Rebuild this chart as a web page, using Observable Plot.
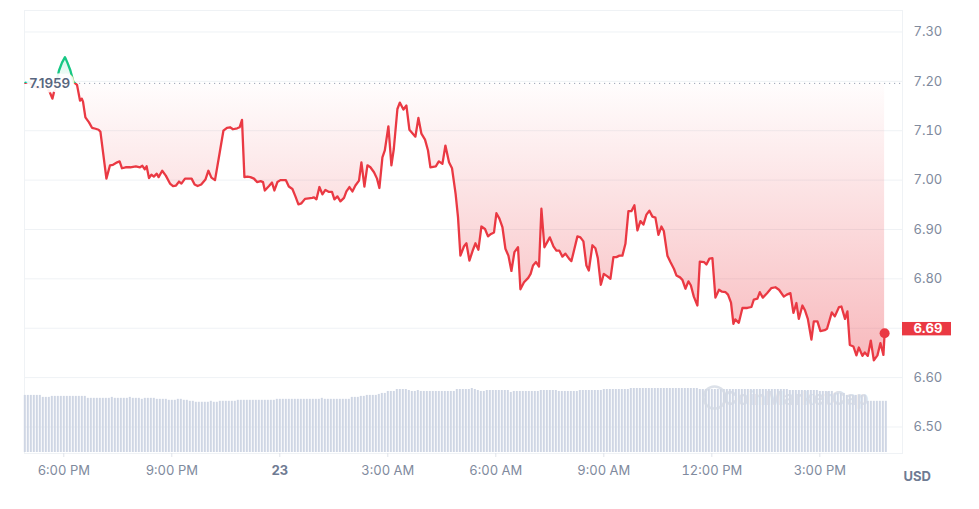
<!DOCTYPE html>
<html>
<head>
<meta charset="utf-8">
<script src="https://cdn.jsdelivr.net/npm/d3@7"></script>
<script src="https://cdn.jsdelivr.net/npm/@observablehq/plot@0.6"></script>
<style>
  html, body { margin: 0; padding: 0; background: #fff; }
  #chart { position: relative; width: 979px; height: 509px; overflow: hidden; font-family: Inter, "Noto Sans", sans-serif; }
  #chart svg { position: absolute; left: 0; top: 0; }
</style>
</head>
<body>
<div id="chart"></div>
<script>
// Minutes relative to 6:00 PM (day 22)
const times = [
  -64,-59,-54,-49,-44,-39,-34,-29,-24,-19,
  -14,-8,-3,2,6,11,16,20,22,27,
  30,32,36,42,47,53,58,61,71,77,
  82,89,93,97,103,111,120,127,131,135,
  138,142,146,150,155,158,164,170,177,182,
  187,192,196,202,210,213,218,223,229,236,
  241,246,252,260,266,272,277,282,289,293,
  297,301,306,311,317,322,328,332,335,342,
  347,351,356,361,370,375,381,386,391,396,
  402,414,417,421,426,431,436,442,447,451,
  456,461,467,471,476,481,486,492,496,501,
  506,511,517,522,526,531,535,541,546,550,
  556,560,566,571,576,581,586,591,596,602,
  607,611,620,625,631,636,642,647,653,657,
  661,667,671,676,682,686,691,696,702,707,
  712,717,721,726,731,736,741,746,751,757,
  761,767,774,778,782,787,792,796,801,810,
  816,821,826,831,836,842,846,851,856,861,
  866,871,875,881,886,890,895,900,906,911,
  916,921,926,931,936,941,946,948,951,956,
  961,966,971,976,981,986,991,996,1000,1006,
  1011,1017,1021,1027,1031,1036,1041,1045,1050,1056,
  1060,1067,1071,1076,1081,1086,1092,1097,1103,1107,
  1112,1116,1119,1125,1131,1139,1146,1150,1156,1160,
  1165,1172,1179,1186,1192,1200,1205,1211,1216,1221,
  1225,1231,1235,1240,1246,1250,1256,1261,1268,1272,
  1280,1285,1292,1296,1302,1306,1310,1316,1321,1325,
  1331,1335,1340,1345,1350,1356,1361,1366,1368
];
const prices = [
  7.197,7.199,7.194,7.190,7.188,7.186,7.187,7.185,7.180,7.165,
  7.190,7.222,7.238,7.249,7.238,7.222,7.199,7.195,7.193,7.161,
  7.165,7.159,7.127,7.117,7.106,7.104,7.102,7.098,7.003,7.030,
  7.031,7.036,7.038,7.024,7.026,7.026,7.028,7.026,7.029,7.022,
  7.028,7.004,7.011,7.007,7.013,7.006,7.019,7.009,6.993,6.988,
  6.989,6.997,6.993,7.003,7.003,7.003,6.991,6.988,6.991,7.001,
  7.019,7.005,7.000,7.057,7.100,7.106,7.107,7.103,7.105,7.107,
  7.122,7.006,7.007,7.006,7.003,6.996,6.998,6.996,6.979,6.988,
  6.995,6.979,6.996,7.000,7.000,6.987,6.982,6.967,6.951,6.953,
  6.962,6.964,6.965,6.961,6.986,6.971,6.980,6.976,6.976,6.961,
  6.967,6.957,6.964,6.977,6.986,6.977,6.989,6.999,7.036,6.987,
  7.030,7.026,7.016,7.003,6.984,7.046,7.060,7.109,7.030,7.063,
  7.144,7.157,7.143,7.151,7.102,7.095,7.088,7.126,7.094,7.082,
  7.060,7.026,7.028,7.038,7.033,7.070,7.036,7.024,6.972,6.925,
  6.847,6.866,6.872,6.837,6.859,6.872,6.859,6.906,6.901,6.886,
  6.891,6.894,6.933,6.922,6.905,6.861,6.847,6.816,6.854,6.864,
  6.779,6.793,6.802,6.810,6.827,6.834,6.825,6.942,6.864,6.884,
  6.866,6.857,6.857,6.845,6.851,6.841,6.836,6.861,6.886,6.884,
  6.876,6.827,6.817,6.868,6.862,6.842,6.788,6.810,6.805,6.800,
  6.844,6.844,6.847,6.847,6.871,6.937,6.937,6.942,6.949,6.898,
  6.917,6.910,6.930,6.938,6.926,6.924,6.889,6.906,6.897,6.847,
  6.834,6.820,6.807,6.803,6.798,6.780,6.795,6.787,6.764,6.746,
  6.835,6.834,6.829,6.841,6.842,6.762,6.778,6.774,6.773,6.768,
  6.752,6.709,6.718,6.711,6.741,6.741,6.743,6.758,6.760,6.773,
  6.762,6.771,6.781,6.783,6.778,6.764,6.768,6.771,6.731,6.751,
  6.719,6.746,6.737,6.719,6.677,6.714,6.714,6.694,6.696,6.699,
  6.732,6.724,6.743,6.744,6.719,6.734,6.666,6.663,6.645,6.661,
  6.644,6.651,6.644,6.675,6.635,6.645,6.670,6.646,6.690
];
const openPrice = 7.1959;
const lastLabel = "6.69";

// Volume bars, one per 5 minutes starting at volStart (arbitrary units)
const volStart = -65, volStep = 5;
const volume = [
  58,58,58,58,58,58,56,56,56,57,57,57,57,57,57,57,57,57,57,57,57,55,55,55,
  55,55,55,55,55,56,55,55,55,55,55,56,55,55,55,54,55,55,55,55,54,54,54,54,
  53,53,53,54,54,53,53,52,52,51,51,51,51,51,52,51,51,52,52,52,52,52,52,53,
  53,53,53,53,53,53,53,53,53,53,53,53,54,54,54,54,54,54,54,54,54,54,54,54,
  54,54,54,55,54,54,54,54,54,54,54,54,54,56,56,56,57,57,58,58,58,58,59,60,
  60,62,62,62,64,64,64,64,63,62,62,63,62,62,62,62,62,62,62,62,62,62,62,62,
  64,64,64,64,64,65,64,63,62,62,63,63,63,63,63,63,63,63,61,62,62,62,62,62,
  62,62,62,62,63,63,63,63,63,63,62,62,62,62,62,62,62,63,63,63,63,63,63,63,
  63,64,64,64,64,64,64,64,64,64,65,65,65,65,65,65,65,65,65,65,65,65,65,65,
  65,65,65,65,65,65,65,65,65,64,64,64,64,64,64,64,64,64,64,64,64,64,64,64,
  64,64,64,64,64,64,64,64,64,64,64,64,64,64,64,63,63,63,63,63,63,63,63,63,
  63,62,62,62,62,62,60,60,60,60,58,58,58,58,58,58,58,52,52,52,52,52,52,52
];

const xTicks = [0, 180, 360, 540, 720, 900, 1080, 1260];
const xTickLabels = ["6:00 PM", "9:00 PM", "23", "3:00 AM", "6:00 AM", "9:00 AM", "12:00 PM", "3:00 PM"];
const yTicks = [6.5, 6.6, 6.7, 6.8, 6.9, 7.0, 7.1, 7.2, 7.3];

// ---- build ----
const W = 979, H = 509;
const red = "#ea3943", green = "#16c784";
const xDomain = [-65.5, 1397.8];
const data = times.map((t, i) => ({t, p: prices[i]}));
const last = data[data.length - 1];
const pMin = d3.min(prices), pMax = d3.max(prices);
const volRows = volume.map((v, i) => ({t: volStart + i * volStep, v}));
const labelOf = new Map(xTicks.map((t, i) => [t, xTickLabels[i]]));
const font = "Inter, 'Noto Sans', sans-serif";

const defsMark = (index, scales, values, dims) => {
  const yb = scales.y(openPrice);
  const yTop = scales.y(pMax), yBot = scales.y(pMin);
  const defs = d3.create("svg:defs");
  const lg = defs.append("linearGradient").attr("id", "lineGrad")
    .attr("gradientUnits", "userSpaceOnUse")
    .attr("x1", 0).attr("x2", 0).attr("y1", 0).attr("y2", dims.height);
  const p = yb / dims.height;
  lg.append("stop").attr("offset", p).attr("stop-color", green);
  lg.append("stop").attr("offset", p).attr("stop-color", red);
  const fg = defs.append("linearGradient").attr("id", "fillGrad")
    .attr("gradientUnits", "userSpaceOnUse")
    .attr("x1", 0).attr("x2", 0).attr("y1", yTop).attr("y2", yBot);
  const q = (yb - yTop) / (yBot - yTop);
  fg.append("stop").attr("offset", 0).attr("stop-color", green).attr("stop-opacity", 0.18);
  fg.append("stop").attr("offset", q).attr("stop-color", green).attr("stop-opacity", 0.02);
  fg.append("stop").attr("offset", q).attr("stop-color", red).attr("stop-opacity", 0.01);
  fg.append("stop").attr("offset", 1).attr("stop-color", red).attr("stop-opacity", 0.35);
  return defs.node();
};

const lastBox = (index, scales, values, dims) => {
  const y = scales.y(last.p) - 4;
  return d3.create("svg:rect")
    .attr("x", dims.width - dims.marginRight)
    .attr("y", y - 6.7)
    .attr("width", 49)
    .attr("height", 13.4)
    .attr("fill", red)
    .node();
};

const pricePlot = Plot.plot({
  width: W, height: H,
  marginLeft: 24, marginRight: 77, marginTop: 10, marginBottom: 56,
  style: {fontFamily: font, fontSize: "13px", background: "transparent", color: "#808a9d"},
  x: {domain: xDomain},
  y: {domain: [6.4463, 7.3435]},
  marks: [
    defsMark,
    Plot.gridY(yTicks, {stroke: "#eff2f5", strokeOpacity: 1}),
    Plot.frame({stroke: "#eff2f5"}),
    Plot.axisX(xTicks.filter(t => t !== 360), {
      label: null, tickSize: 4, tickPadding: 8, stroke: "#dfe3ea", fill: "#808a9d",
      tickFormat: t => labelOf.get(t)
    }),
    Plot.axisX([360], {
      label: null, tickSize: 4, tickPadding: 8, stroke: "#dfe3ea", fill: "#6f7b93", fontWeight: 700,
      tickFormat: t => labelOf.get(t)
    }),
    Plot.axisY(yTicks, {
      anchor: "right", label: null, tickSize: 0, tickPadding: 11, fill: "#808a9d",
      tickFormat: d => d.toFixed(2)
    }),
    Plot.ruleY([openPrice], {stroke: "#9aa3b5", strokeDasharray: "1.2,3.8", strokeWidth: 1}),
    Plot.area(data, {x1: "t", y1: () => openPrice, y2: "p", fill: "url(#fillGrad)"}),
    Plot.line(data, {x: "t", y: "p", stroke: "url(#lineGrad)", strokeWidth: 2.3, strokeLinejoin: "round"}),
    Plot.text([openPrice], {
      frameAnchor: "left", y: d => d, dx: 5, text: d => d.toFixed(4), textAnchor: "start",
      fill: "#58667e", fontWeight: 600, fontSize: 13.5,
      stroke: "white", strokeWidth: 9, strokeOpacity: 0.93, strokeLinejoin: "round"
    }),
    Plot.dot([last], {x: "t", y: "p", r: 5, fill: red}),
    lastBox,
    Plot.text([last], {
      frameAnchor: "right", y: "p", dx: 11, dy: -4, text: () => lastLabel, textAnchor: "start",
      fill: "white", fontWeight: 700, fontSize: 13
    }),
    Plot.text(["USD"], {
      frameAnchor: "bottom-right", dx: 1, dy: 27, textAnchor: "start",
      fill: "#6f7b93", fontWeight: 700, fontSize: 13
    })
  ]
});

const volPlot = Plot.plot({
  width: W, height: H,
  marginLeft: 24, marginRight: 77, marginTop: 388, marginBottom: 57,
  style: {fontFamily: font, background: "transparent"},
  x: {domain: xDomain, axis: null},
  y: {domain: [0, 65], axis: null},
  marks: [
    Plot.ruleX(volRows, {x: "t", y1: 0, y2: "v", stroke: "#cfd6e4", strokeWidth: 2}),
    Plot.dot(["logo"], {frameAnchor: "right", dx: -188, dy: -23, r: 11, stroke: "#d3d9e4", strokeWidth: 2.5, fill: "none", strokeOpacity: 0.8}),
    Plot.text(["CoinMarketCap"], {
      frameAnchor: "right", dx: -34, dy: -22, textAnchor: "end",
      fill: "#d3d9e4", fillOpacity: 0.8, fontWeight: 700, fontSize: 19
    })
  ]
});

const chart = document.getElementById("chart");
chart.appendChild(pricePlot);
chart.appendChild(volPlot);
</script>
</body>
</html>
